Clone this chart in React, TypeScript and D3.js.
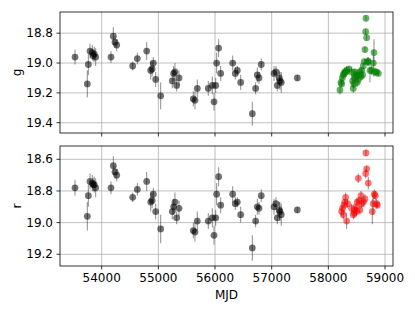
import React from 'react';
import * as d3 from 'd3';

// archival epochs (shared by g and r)
const mjdOld = [53529, 53746, 53764, 53794, 53834, 53850, 53869, 53894, 54164, 54205, 54235, 54265, 54547, 54629, 54794, 54865, 54890, 54911, 54953, 55041, 55246, 55270, 55293, 55323, 55364, 55617, 55646, 55687, 55881, 55952, 55982, 56012, 56029, 56064, 56100, 56312, 56358, 56393, 56453, 56658, 56717, 56746, 56776, 56816, 57041, 57076, 57099, 57134, 57146, 57169, 57452];
const gOld = [18.96, 19.14, 19.01, 18.92, 18.93, 18.95, 18.94, 18.96, 18.96, 18.82, 18.86, 18.88, 19.02, 18.97, 18.92, 19.05, 19.04, 19.0, 19.11, 19.22, 19.12, 19.07, 19.06, 19.15, 19.1, 19.24, 19.25, 19.17, 19.17, 19.15, 19.26, 19.15, 19.0, 18.9, 19.07, 19.0, 19.07, 19.05, 19.13, 19.34, 19.17, 19.08, 19.1, 19.01, 19.07, 19.06, 19.15, 19.1, 19.12, 19.13, 19.1];
const rOld = [18.78, 18.96, 18.83, 18.74, 18.75, 18.76, 18.76, 18.78, 18.78, 18.64, 18.68, 18.7, 18.84, 18.79, 18.74, 18.87, 18.86, 18.82, 18.93, 19.04, 18.93, 18.9, 18.87, 18.97, 18.91, 19.05, 19.06, 18.99, 18.99, 18.97, 19.08, 18.97, 18.82, 18.71, 18.89, 18.82, 18.88, 18.87, 18.95, 19.16, 18.99, 18.9, 18.91, 18.83, 18.9, 18.88, 18.97, 18.92, 18.93, 18.95, 18.92];
const errOld = [0.05, 0.09, 0.07, 0.05, 0.05, 0.04, 0.05, 0.06, 0.04, 0.06, 0.04, 0.04, 0.03, 0.04, 0.06, 0.06, 0.05, 0.04, 0.05, 0.09, 0.05, 0.05, 0.06, 0.04, 0.05, 0.05, 0.06, 0.06, 0.05, 0.06, 0.06, 0.05, 0.07, 0.06, 0.05, 0.05, 0.04, 0.03, 0.05, 0.08, 0.04, 0.05, 0.04, 0.04, 0.05, 0.04, 0.04, 0.05, 0.06, 0.07, 0.02];

// recent g
const mjdG = [58205, 58223, 58235, 58246, 58264, 58276, 58293, 58311, 58323, 58364, 58411, 58429, 58440, 58450, 58458, 58470, 58488, 58499, 58510, 58528, 58540, 58558, 58576, 58588, 58605, 58617, 58635, 58646, 58659, 58664, 58676, 58694, 58705, 58735, 58764, 58793, 58806, 58823, 58852, 58882];
const gNew = [19.18, 19.13, 19.14, 19.1, 19.08, 19.07, 19.06, 19.06, 19.05, 19.04, 19.06, 19.12, 19.17, 19.14, 19.1, 19.06, 19.08, 19.09, 19.13, 19.11, 19.08, 19.06, 19.09, 19.05, 19.08, 19.02, 18.99, 18.91, 18.79, 18.7, 18.83, 18.99, 18.99, 19.05, 19.05, 19.0, 18.93, 19.06, 19.06, 19.07];
const gErrNew = [0.03, 0.03, 0.02, 0.03, 0.03, 0.02, 0.03, 0.02, 0.03, 0.02, 0.03, 0.04, 0.03, 0.03, 0.03, 0.02, 0.03, 0.03, 0.03, 0.03, 0.02, 0.03, 0.03, 0.02, 0.03, 0.02, 0.02, 0.02, 0.02, 0.02, 0.02, 0.03, 0.03, 0.08, 0.03, 0.09, 0.09, 0.03, 0.02, 0.02];

// recent r
const mjdR = [58235, 58250, 58264, 58276, 58290, 58305, 58323, 58340, 58411, 58440, 58458, 58470, 58488, 58499, 58511, 58528, 58540, 58558, 58576, 58588, 58617, 58646, 58659, 58664, 58676, 58705, 58776, 58793, 58811, 58829, 58852, 58864];
const rNew = [18.93, 18.91, 18.95, 18.89, 18.87, 18.84, 18.99, 18.88, 18.91, 18.95, 18.94, 18.92, 18.9, 18.93, 18.87, 18.72, 18.86, 18.92, 18.83, 18.88, 18.87, 18.85, 18.69, 18.56, 18.66, 18.75, 18.93, 18.88, 18.82, 18.83, 18.88, 18.89];
const rErrNew = [0.03, 0.02, 0.03, 0.02, 0.02, 0.03, 0.05, 0.03, 0.03, 0.03, 0.03, 0.02, 0.02, 0.03, 0.02, 0.03, 0.02, 0.03, 0.03, 0.03, 0.03, 0.03, 0.03, 0.02, 0.02, 0.04, 0.08, 0.07, 0.03, 0.03, 0.03, 0.02];

const xTicks = [54000, 55000, 56000, 57000, 58000, 59000];
const gTicks = [18.8, 19.0, 19.2, 19.4];
const rTicks = [18.6, 18.8, 19.0, 19.2];

const W = 415;
const H = 311;
const left = 60;
const right = 393;
const font = 'DejaVu Sans, sans-serif';

interface Series {
  mjd: number[];
  mag: number[];
  err: number[];
  color: string;
  opacity: number;
}

interface PanelProps {
  top: number;
  bottom: number;
  domain: [number, number];
  ticks: number[];
  label: string;
  series: Series[];
  showX: boolean;
}

const x = d3.scaleLinear().domain([53264, 59141]).range([left, right]);

const Panel: React.FC<PanelProps> = ({ top, bottom, domain, ticks, label, series, showX }) => {
  const y = d3.scaleLinear().domain(domain).range([top, bottom]);
  return (
    <g>
      {xTicks.map(t => (
        <line key={'vx' + t} x1={x(t)} x2={x(t)} y1={top} y2={bottom} stroke="#b0b0b0" strokeWidth={0.8} />
      ))}
      {ticks.map(t => (
        <line key={'hy' + t} x1={left} x2={right} y1={y(t)} y2={y(t)} stroke="#b0b0b0" strokeWidth={0.8} />
      ))}
      {series.map((s, si) => (
        <g key={si}>
          {s.mjd.map((m, i) => (
            <line key={'e' + i} x1={x(m)} x2={x(m)} y1={y(s.mag[i] - s.err[i])} y2={y(s.mag[i] + s.err[i])}
              stroke="#000" strokeOpacity={0.45} strokeWidth={1} />
          ))}
          {s.mjd.map((m, i) => (
            <circle key={'p' + i} cx={x(m)} cy={y(s.mag[i])} r={3.4} fill={s.color} fillOpacity={s.opacity} />
          ))}
        </g>
      ))}
      <rect x={left} y={top} width={right - left} height={bottom - top} fill="none" stroke="#000" strokeWidth={0.8} />
      {ticks.map(t => (
        <g key={'yt' + t}>
          <line x1={left - 3.5} x2={left} y1={y(t)} y2={y(t)} stroke="#000" strokeWidth={0.8} />
          <text x={left - 7} y={y(t)} dy="0.35em" textAnchor="end" fontSize={12} fontFamily={font}>{d3.format('.1f')(t)}</text>
        </g>
      ))}
      {xTicks.map(t => (
        <g key={'xt' + t}>
          <line x1={x(t)} x2={x(t)} y1={bottom} y2={bottom + 3.5} stroke="#000" strokeWidth={0.8} />
          {showX && (
            <text x={x(t)} y={bottom + 16} textAnchor="middle" fontSize={12} fontFamily={font}>{t}</text>
          )}
        </g>
      ))}
      <text transform={`translate(${17},${(top + bottom) / 2}) rotate(-90)`} textAnchor="middle" dy="0.35em"
        fontSize={12} fontFamily={font}>{label}</text>
    </g>
  );
};

const App: React.FC = () => {
  return (
    <svg width={W} height={H} style={{ position: 'absolute', left: 0, top: 0, background: '#fff' }}>
      <Panel top={12} bottom={133} domain={[18.658, 19.469]} ticks={gTicks} label="g" showX={false}
        series={[
          { mjd: mjdOld, mag: gOld, err: errOld, color: '#000', opacity: 0.55 },
          { mjd: mjdG, mag: gNew, err: gErrNew, color: '#008000', opacity: 0.6 },
        ]} />
      <Panel top={146} bottom={266} domain={[18.516, 19.274]} ticks={rTicks} label="r" showX={true}
        series={[
          { mjd: mjdOld, mag: rOld, err: errOld, color: '#000', opacity: 0.55 },
          { mjd: mjdR, mag: rNew, err: rErrNew, color: '#ff0000', opacity: 0.55 },
        ]} />
      <text x={(left + right) / 2} y={299} textAnchor="middle" fontSize={12} fontFamily={font}>MJD</text>
    </svg>
  );
};

export default App;
